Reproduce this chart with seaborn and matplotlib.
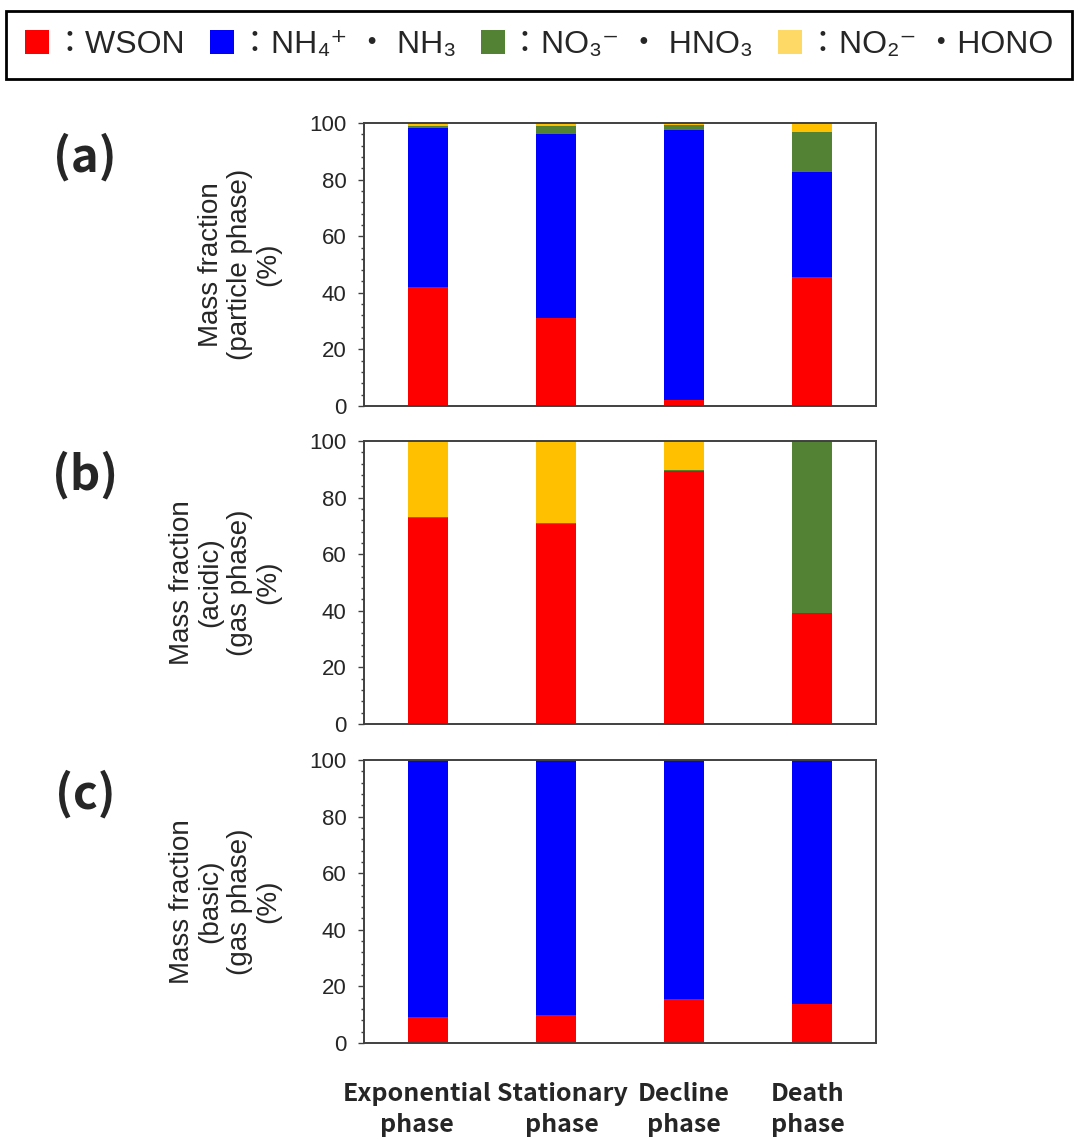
import matplotlib
matplotlib.use("Agg")
import matplotlib.pyplot as plt
from matplotlib.patches import Patch
from matplotlib.ticker import MultipleLocator
from matplotlib.transforms import ScaledTranslation
import numpy as np
import pandas as pd
import seaborn as sns

# Growth phases (x categories)
phases = ["Exponential\nphase", "Stationary\nphase", "Decline\nphase", "Death\nphase"]

# Component labels and colours
labels = ["：WSON", "：NH₄⁺ ・ NH₃", "：NO₃⁻ ・ HNO₃", "：NO₂⁻ ・HONO"]
bar_colors = ["#FF0000", "#0000FF", "#548235", "#FFC000"]
legend_colors = ["#FF0000", "#0000FF", "#548235", "#FFD966"]

# (a) particle phase mass fractions (%)
particle_wson = [42.0, 31.0, 2.0, 45.5]
particle_nh = [56.2, 65.0, 95.5, 37.3]
particle_no3 = [0.9, 2.9, 1.7, 14.1]
particle_no2 = [0.9, 1.1, 0.8, 3.1]

# (b) acidic gas phase mass fractions (%)
acidic_wson = [72.7, 70.6, 89.4, 39.3]
acidic_nh = [0.0, 0.0, 0.0, 0.0]
acidic_no3 = [0.6, 0.4, 0.4, 60.7]
acidic_no2 = [26.7, 29.0, 10.2, 0.0]

# (c) basic gas phase mass fractions (%)
basic_wson = [9.1, 9.8, 15.7, 13.7]
basic_nh = [90.9, 90.2, 84.3, 86.3]
basic_no3 = [0.0, 0.0, 0.0, 0.0]
basic_no2 = [0.0, 0.0, 0.0, 0.0]

panel_tags = ["(a)", "(b)", "(c)"]
ylabels = [
    "Mass fraction\n(particle phase)\n(%)",
    "Mass fraction\n(acidic)\n(gas phase)\n(%)",
    "Mass fraction\n(basic)\n(gas phase)\n(%)",
]
panels = [
    [particle_wson, particle_nh, particle_no3, particle_no2],
    [acidic_wson, acidic_nh, acidic_no3, acidic_no2],
    [basic_wson, basic_nh, basic_no3, basic_no2],
]

sns.set_theme(style="white")
plt.rcParams["font.family"] = ["Liberation Sans", "Noto Sans CJK JP", "DejaVu Sans"]
plt.rcParams["axes.unicode_minus"] = False

W, H = 1078, 1139
fig = plt.figure(figsize=(W / 100, H / 100), dpi=100)

frame_color = "#404040"
ax_left, ax_right = 364, 876
tops = [123, 441, 760]
bottoms = [406, 724, 1043]
# small horizontal nudges (pixels) of the phase names so they do not collide
label_shift_px = [-11, 6, 0, -4]

for i, (comps, tag, ylab) in enumerate(zip(panels, panel_tags, ylabels)):
    ax = fig.add_axes([ax_left / W, 1 - bottoms[i] / H,
                       (ax_right - ax_left) / W, (bottoms[i] - tops[i]) / H])
    df = pd.DataFrame({"phase": phases})
    cum = np.cumsum(np.array(comps, dtype=float), axis=0)
    # stacked bars: draw cumulative totals from the top component down
    for k in range(len(comps) - 1, -1, -1):
        df["value"] = cum[k]
        sns.barplot(data=df, x="phase", y="value", color=bar_colors[k],
                    saturation=1, width=0.31, errorbar=None, ax=ax,
                    linewidth=0)
    ax.set_xlim(-0.5, 3.5)
    ax.set_ylim(0, 100)
    ax.yaxis.set_major_locator(MultipleLocator(20))
    ax.yaxis.set_minor_locator(MultipleLocator(4))
    ax.tick_params(axis="y", which="major", direction="out", length=4.5, width=1,
                   color=frame_color, labelsize=16, pad=8, left=True)
    ax.tick_params(axis="y", which="minor", direction="out", length=2.5,
                   width=1, color=frame_color, left=True)
    ax.set_xlabel("")
    ax.set_ylabel(ylab, fontsize=20, labelpad=20, linespacing=1.15)
    for sp in ax.spines.values():
        sp.set_visible(True)
        sp.set_color(frame_color)
        sp.set_linewidth(1.4)
    if i < 2:
        ax.set_xticklabels([])
        ax.tick_params(axis="x", length=0)
    else:
        ax.tick_params(axis="x", length=0, pad=28)
        for t, dx in zip(ax.get_xticklabels(), label_shift_px):
            t.set_fontfamily(["Noto Sans CJK JP", "DejaVu Sans"])
            t.set_fontweight("bold")
            t.set_fontsize(18)
            t.set_linespacing(1.4)
            t.set_transform(t.get_transform() +
                            ScaledTranslation(dx / 100, 0, fig.dpi_scale_trans))
    fig.text(85 / W, 1 - (tops[i] + 34) / H, tag, fontsize=34, fontweight="bold",
             family=["Noto Sans CJK JP", "DejaVu Sans"], ha="center", va="center")

handles = [Patch(facecolor=c, edgecolor="none") for c in legend_colors]
leg = fig.legend(handles, labels, loc="upper left", ncol=4, mode="expand",
                 bbox_to_anchor=(6 / W, 1 - 11 / H, 1066 / W, 0),
                 fontsize=23, frameon=True, fancybox=False, framealpha=1,
                 edgecolor="black", handlelength=0.75, handleheight=0.75,
                 handletextpad=0.15, columnspacing=0.5, borderaxespad=0,
                 borderpad=0.6)
leg.get_frame().set_linewidth(2)

fig.savefig("out.png", dpi=100)
